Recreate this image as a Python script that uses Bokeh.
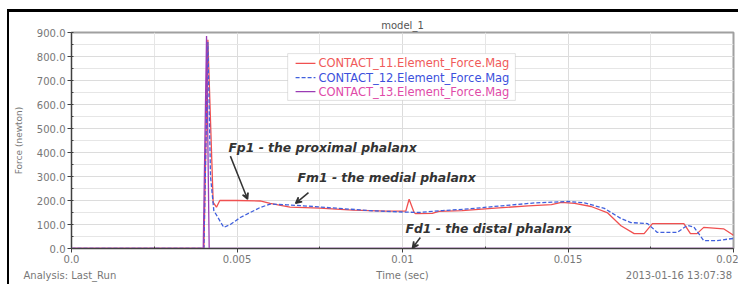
from bokeh.plotting import figure
from bokeh.embed import file_html
from bokeh.resources import INLINE
from bokeh.models import (Range1d, Label, Arrow, VeeHead, BoxAnnotation, LinearAxis,
                          SingleIntervalTicker, FixedTicker, NumeralTickFormatter)

# ---------------- data ----------------
t_c11 = [0.0, 0.00400, 0.00412, 0.00428, 0.00438, 0.00448, 0.0050, 0.0057, 0.0060,
         0.0066, 0.0075, 0.0085, 0.0095, 0.0101, 0.0102, 0.01035, 0.0104, 0.0109,
         0.0111, 0.0118, 0.0128, 0.0138, 0.0145, 0.0148, 0.0152, 0.0157, 0.0162,
         0.0166, 0.0170, 0.0173, 0.01755, 0.0185, 0.0187, 0.0189, 0.0191, 0.0197, 0.0200]
f_c11 = [0, 0, 870, 192, 172, 200, 200, 198, 188,
         172, 168, 160, 156, 156, 205, 150, 145, 146,
         155, 158, 168, 178, 183, 192, 188, 175, 148,
         95, 62, 62, 104, 104, 62, 62, 88, 82, 55]

t_c12 = [0.0, 0.00400, 0.00412, 0.0042, 0.0043, 0.0046, 0.0048, 0.0051, 0.0057, 0.0060,
         0.0065, 0.0070, 0.0080, 0.0090, 0.0100, 0.0105, 0.0112, 0.0120, 0.0130,
         0.0140, 0.0150, 0.0155, 0.0161, 0.0166, 0.0169, 0.0174, 0.0177, 0.0183,
         0.0186, 0.0188, 0.0191, 0.0195, 0.0200]
f_c12 = [0, 0, 860, 300, 158, 88, 100, 129, 171, 185,
         182, 178, 168, 158, 152, 150, 158, 165, 178,
         190, 196, 190, 167, 125, 108, 104, 67, 67,
         96, 90, 33, 33, 42]

t_c13 = [0.0, 0.00398, 0.00408, 0.00416, 0.0200]
f_c13 = [0, 0, 885, 0, 0]

series_names = ["CONTACT_11.Element_Force.Mag",
                "CONTACT_12.Element_Force.Mag",
                "CONTACT_13.Element_Force.Mag"]
x_ticks = [0.0, 0.005, 0.01, 0.015, 0.02]
x_tick_labels = ["0.0", "0.005", "0.01", "0.015", "0.02"]
x_minor = [0.0025, 0.0075, 0.0125, 0.0175]
footer_texts = ["Analysis:  Last_Run", "Time (sec)", "2013-01-16 13:07:38"]
footer_pos = [0.0, 0.01, 0.01835]

FONT = "DejaVu Sans"
C_RED = "#f05050"
C_BLUE = "#4060dd"
C_PURP = "#9a3cb4"

p = figure(frame_width=662, frame_height=216, output_backend="svg",
           toolbar_location=None,
           x_range=Range1d(0, 0.02), y_range=Range1d(0, 900),
           min_border_left=62, min_border_right=5, min_border_top=20,
           min_border_bottom=36, title="model_1")
p.styles = {"margin-top": "9px", "margin-left": "7px",
            "border-top": "3px solid black", "border-left": "2px solid black"}

p.title.align = "center"
p.title.text_font = FONT
p.title.text_font_size = "10px"
p.title.text_font_style = "normal"
p.title.text_color = "#555555"
p.title.offset = 0
p.title.standoff = 4

p.outline_line_color = "#a0a0a0"
p.outline_line_width = 2

# axes
p.yaxis.ticker = SingleIntervalTicker(interval=100, num_minor_ticks=2)
p.yaxis.formatter = NumeralTickFormatter(format="0.0")
p.yaxis.axis_label = "Force (newton)"
p.xaxis.ticker = FixedTicker(ticks=x_ticks, minor_ticks=x_minor)
p.xaxis.major_label_overrides = {t: l for t, l in zip(x_ticks, x_tick_labels)}
for ax in (p.xaxis[0], p.yaxis[0]):
    ax.axis_line_color = "#404040"
    ax.major_tick_line_color = "#404040"
    ax.minor_tick_line_color = "#404040"
    ax.major_tick_out = 4
    ax.major_tick_in = 0
    ax.minor_tick_in = 2
    ax.minor_tick_out = 0
    ax.major_label_text_font = FONT
    ax.major_label_text_font_size = "10px"
    ax.major_label_text_color = "#777777"
    ax.major_label_standoff = 2
    ax.axis_label_text_font = FONT
    ax.axis_label_text_font_size = "9px"
    ax.axis_label_text_font_style = "normal"
    ax.axis_label_text_color = "#777777"
p.yaxis.axis_label_standoff = 10

# footer line as a label-only axis
foot_axis = LinearAxis(ticker=FixedTicker(ticks=footer_pos, minor_ticks=[]),
                       major_label_overrides={t: s for t, s in zip(footer_pos, footer_texts)},
                       axis_line_color=None, major_tick_line_color=None,
                       minor_tick_line_color=None, major_tick_out=0, major_tick_in=0,
                       major_label_standoff=4,
                       major_label_text_font=FONT, major_label_text_font_size="10px",
                       major_label_text_color="#777777")
p.add_layout(foot_axis, "below")

p.ygrid.ticker = SingleIntervalTicker(interval=100, num_minor_ticks=2)
p.xgrid.ticker = FixedTicker(ticks=x_ticks, minor_ticks=x_minor)
for g in (p.xgrid[0], p.ygrid[0]):
    g.grid_line_color = "#dcdcdc"
    g.minor_grid_line_color = "#e6e6e6"

# series
p.line(t_c11, f_c11, line_color=C_RED, line_width=1.3)
p.line(t_c12, f_c12, line_color=C_BLUE, line_width=1.3, line_dash="4 2")
p.line(t_c13, f_c13, line_color=C_PURP, line_width=1.3)

# custom legend
p.add_layout(BoxAnnotation(left=0.00653, right=0.01341, bottom=617, top=812,
                           fill_color="white", fill_alpha=1.0,
                           line_color="#a0a0a0", line_width=1))
leg_y = [771, 712, 654]
leg_line = [(C_RED, "solid"), (C_BLUE, "4 2"), (C_PURP, "solid")]
leg_text_col = ["#f05a5a", "#3c50dc", "#e04aa8"]
for name, yy, (lc, ld), tc in zip(series_names, leg_y, leg_line, leg_text_col):
    p.add_layout(Arrow(x_start=0.00677, x_end=0.00737, y_start=yy, y_end=yy,
                       end=None, line_color=lc, line_width=1.3, line_dash=ld))
    p.add_layout(Label(x=0.00746, y=yy, text=name, text_font=FONT,
                       text_font_size="11.5px", text_color=tc,
                       text_baseline="middle", text_align="left"))

# callouts
ann_font = dict(text_font=FONT, text_font_size="12.4px",
                text_font_style="bold italic", text_color="#333333",
                text_baseline="middle", text_align="left")
p.add_layout(Label(x=0.00474, y=421, text="Fp1 - the proximal phalanx", **ann_font))
p.add_layout(Label(x=0.00683, y=296, text="Fm1 - the medial phalanx", **ann_font))
p.add_layout(Label(x=0.01009, y=83, text="Fd1 - the distal phalanx", **ann_font))

arrow_kw = dict(line_color="#333333", line_width=1.5)
p.add_layout(Arrow(x_start=0.00480, y_start=385, x_end=0.00532, y_end=205,
                   end=VeeHead(size=6, line_color="#333333", line_width=1.5), **arrow_kw))
p.add_layout(Arrow(x_start=0.00716, y_start=233, x_end=0.00677, y_end=188,
                   end=VeeHead(size=6, line_color="#333333", line_width=1.5), **arrow_kw))
p.add_layout(Arrow(x_start=0.01054, y_start=46, x_end=0.01030, y_end=2,
                   end=VeeHead(size=6, line_color="#333333", line_width=1.5), **arrow_kw))

open("out.html", "w").write(file_html(p, INLINE))
